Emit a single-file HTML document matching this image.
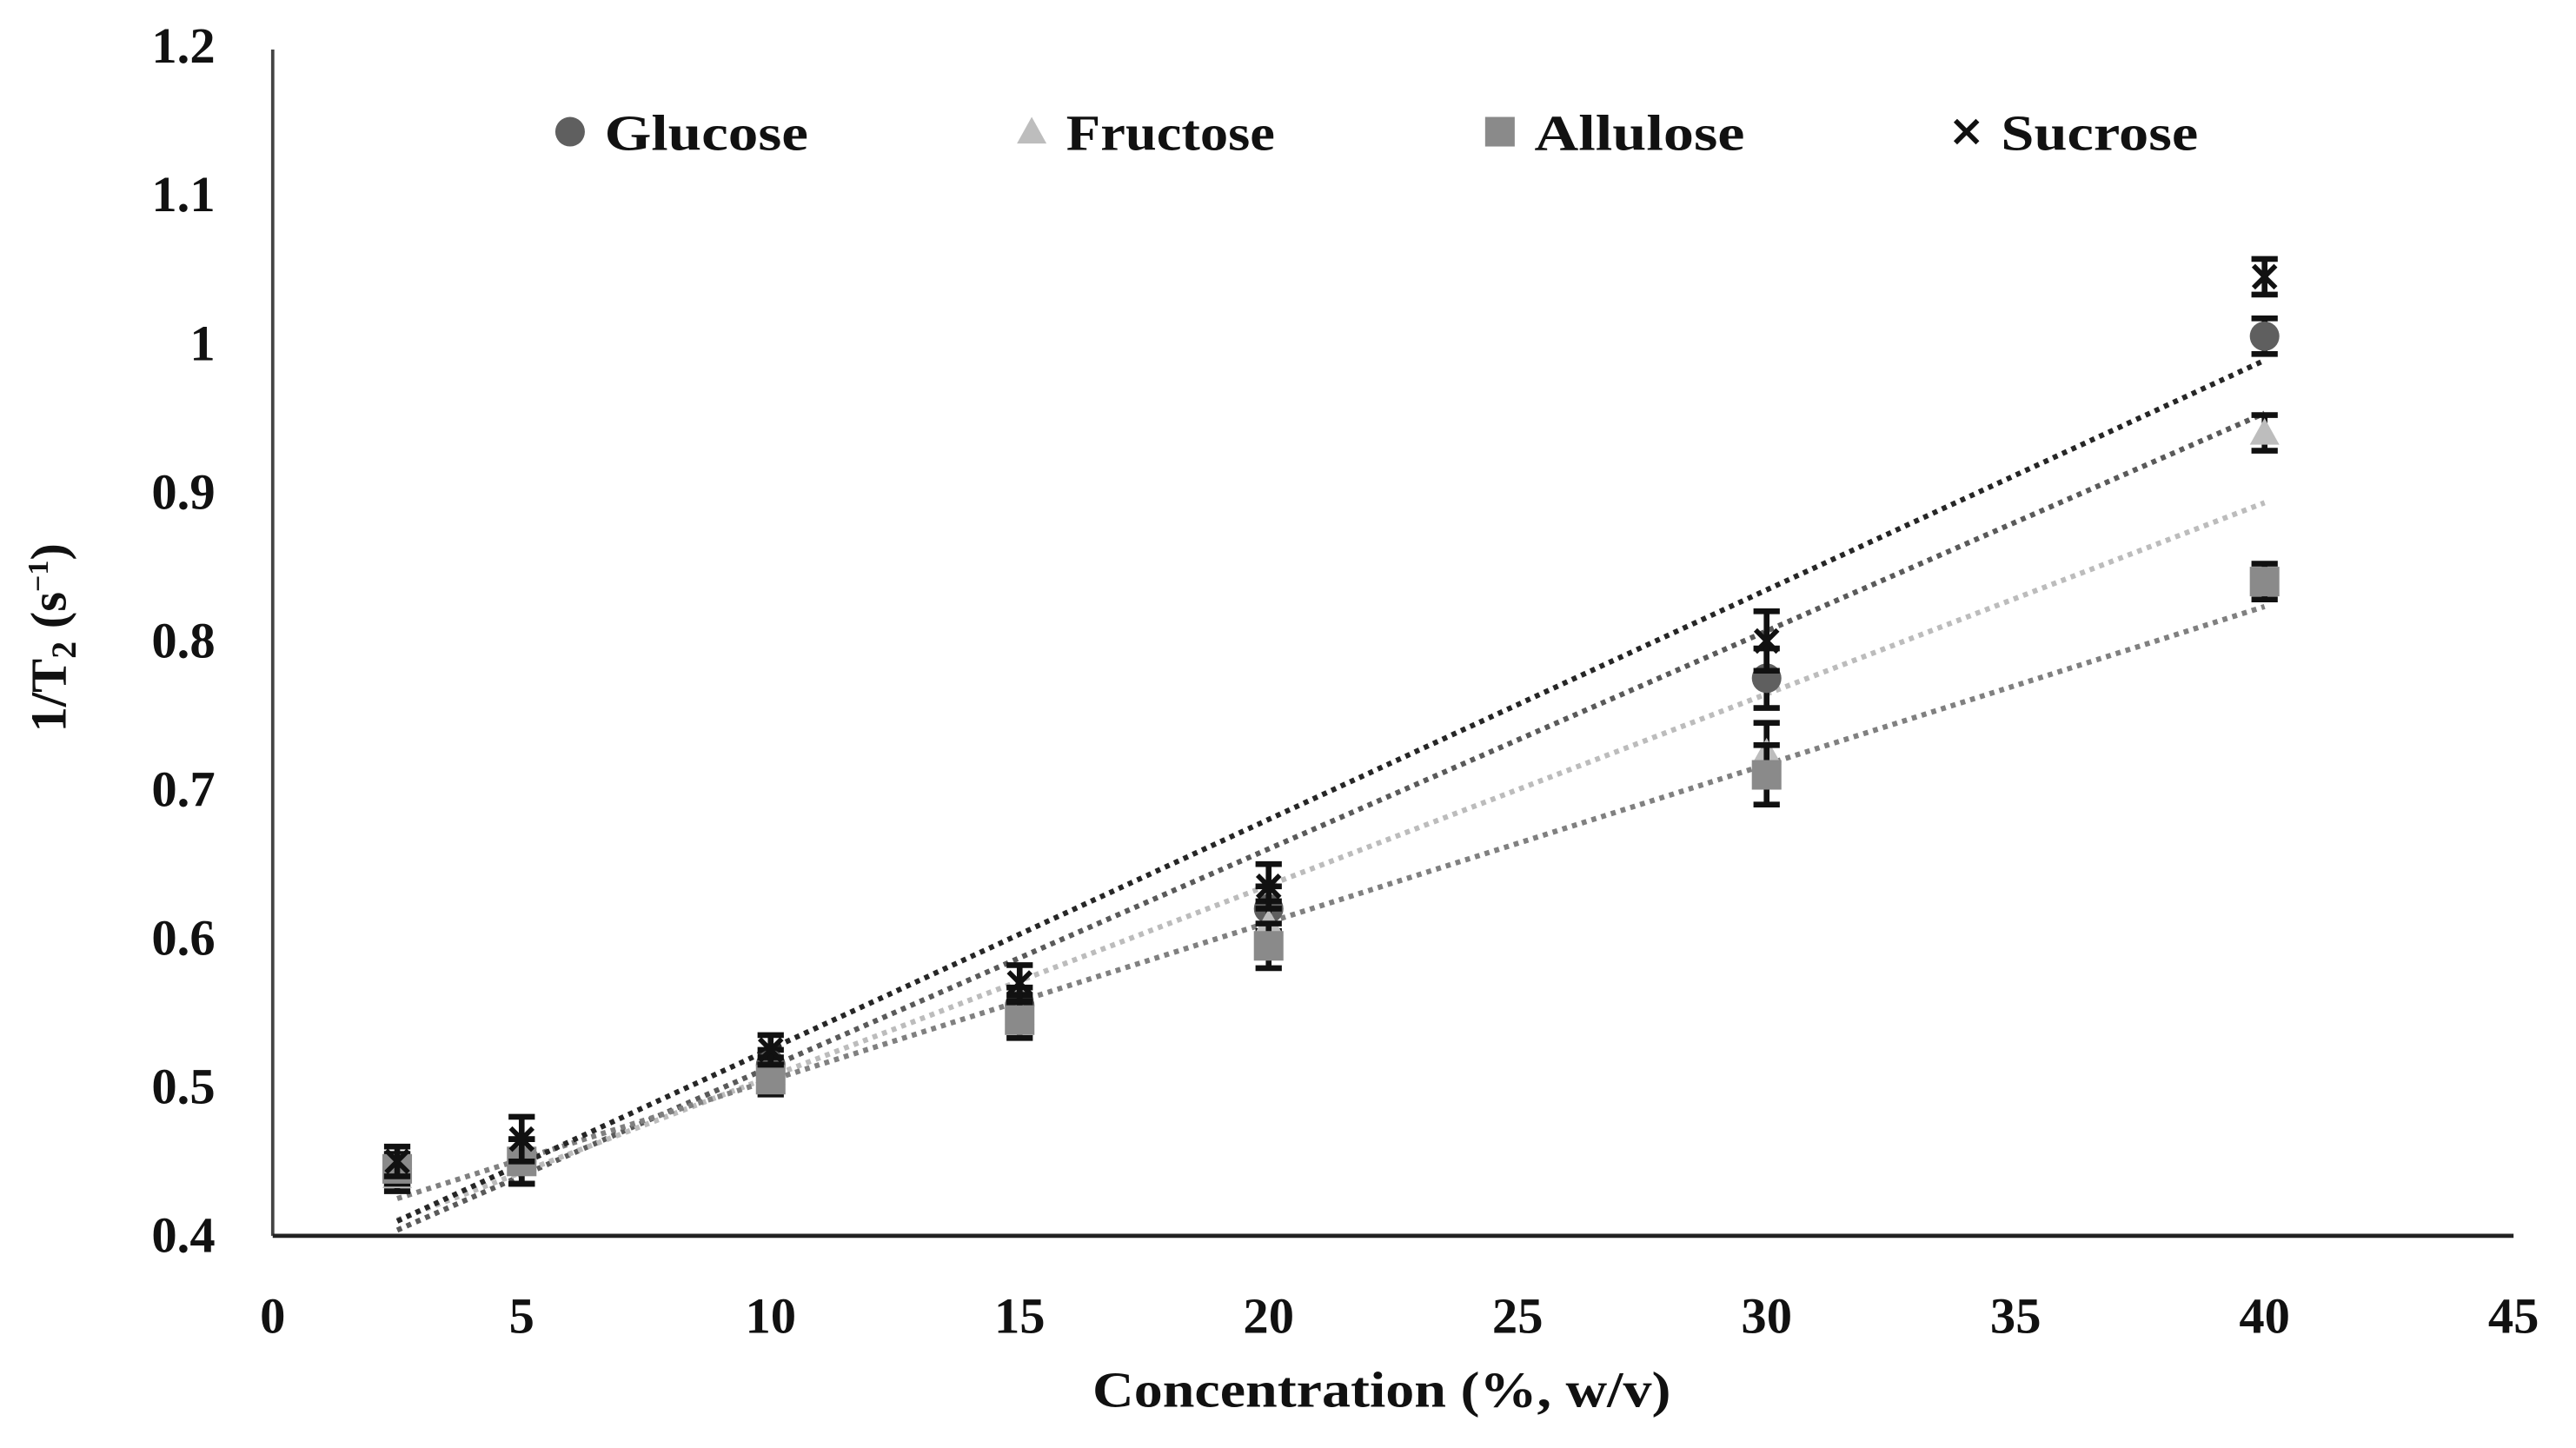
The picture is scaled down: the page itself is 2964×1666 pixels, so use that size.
<!DOCTYPE html>
<html><head><meta charset="utf-8"><style>
html,body{margin:0;padding:0;background:#fff;}
svg{display:block;}
text{font-family:"Liberation Serif",serif;font-weight:bold;fill:#111;}
</style></head><body>
<svg id="chart" width="2964" height="1666" viewBox="0 0 1568 881" xmlns="http://www.w3.org/2000/svg">
<g id="axes"></g>
<g id="plot"></g>
<g id="legend"></g>
<text x="665" y="856" font-size="31" textLength="352" lengthAdjust="spacingAndGlyphs">Concentration (%, w/v)</text>
<text transform="translate(40,388) rotate(-90)" font-size="31" text-anchor="middle">1/T<tspan font-size="21" dy="6">2</tspan><tspan dy="-6"> (s</tspan><tspan font-size="18" dy="-11">−1</tspan><tspan dy="11">)</tspan></text>
</svg>
<script>
const categories = [2.5, 5, 10, 15, 20, 30, 40];
const seriesNames = ["Glucose", "Fructose", "Allulose", "Sucrose"];
const glucose = [0.445, 0.45, 0.515, 0.555, 0.62, 0.775, 1.005];
const fructose = [0.44, 0.45, 0.51, 0.55, 0.61, 0.725, 0.94];
const allulose = [0.445, 0.45, 0.505, 0.545, 0.595, 0.71, 0.84];
const sucrose = [0.45, 0.465, 0.525, 0.57, 0.635, 0.80, 1.045];
const errors = [0.01, 0.015, 0.01, 0.012, 0.015, 0.02, 0.012];
const xTicks = [0, 5, 10, 15, 20, 25, 30, 35, 40, 45];
const yTicks = [0.4, 0.5, 0.6, 0.7, 0.8, 0.9, 1, 1.1, 1.2];

const NS = "http://www.w3.org/2000/svg";
const X0 = 166, X1 = 1530, Y0 = 752, Y1 = 28;
function xs(v){ return X0 + (v - 0) / 45 * (X1 - X0); }
function ys(v){ return Y0 - (v - 0.4) / 0.8 * (Y0 - Y1); }
function mk(tag, attrs, parent){ const e = document.createElementNS(NS, tag); for (const k in attrs) e.setAttribute(k, attrs[k]); parent.appendChild(e); return e; }

const axes = document.getElementById('axes');
const plot = document.getElementById('plot');
const legend = document.getElementById('legend');

const ya = mk('line', {x1: X0, y1: Y1 + 2, x2: X0, y2: Y0, stroke: '#444', 'stroke-width': 2}, axes);


const xa = mk('line', {x1: X0, y1: Y0, x2: X1, y2: Y0, stroke: '#222', 'stroke-width': 2.5}, axes);



xTicks.forEach(t => {
  const tx = mk('text', {x: xs(t), y: 811, 'font-size': 31, 'text-anchor': 'middle'}, axes);
  tx.textContent = t;
  
  
});
yTicks.forEach(t => {
  const tx = mk('text', {x: 131, y: ys(t) + 10, 'font-size': 31, 'text-anchor': 'end'}, axes);
  tx.textContent = String(t);
  
  
});

const series = [
  {name: 'glucose', vals: glucose, fill: '#5f5f5f', line: '#5a5a5a', shape: 'circle'},
  {name: 'fructose', vals: fructose, fill: '#bdbdbd', line: '#bcbcbc', shape: 'triangle'},
  {name: 'allulose', vals: allulose, fill: '#8a8a8a', line: '#808080', shape: 'square'},
  {name: 'sucrose', vals: sucrose, fill: '#111', line: '#262626', shape: 'cross'}
];

function drawMarker(shape, cx, cy, fill, parent, size){
  const s = size || 8;
  let m;
  if (shape === 'circle') m = mk('circle', {cx: cx, cy: cy, r: s, fill: fill}, parent);
  else if (shape === 'triangle') m = mk('polygon', {points: `${cx},${cy - s} ${cx - s},${cy + s * 0.8} ${cx + s},${cy + s * 0.8}`, fill: fill}, parent);
  else if (shape === 'square') m = mk('rect', {x: cx - s, y: cy - s, width: 2 * s, height: 2 * s, fill: fill}, parent);
  else m = mk('path', {d: `M${cx - s * 0.75},${cy - s * 0.75}L${cx + s * 0.75},${cy + s * 0.75}M${cx + s * 0.75},${cy - s * 0.75}L${cx - s * 0.75},${cy + s * 0.75}`, stroke: fill, 'stroke-width': 3}, parent);
  return m;
}

series.forEach(s => {
  const n = categories.length;
  let sx = 0, sy = 0, sxx = 0, sxy = 0;
  categories.forEach((x, i) => { sx += x; sy += s.vals[i]; sxx += x * x; sxy += x * s.vals[i]; });
  const b = (n * sxy - sx * sy) / (n * sxx - sx * sx);
  const a = (sy - b * sx) / n;
  const xa0 = categories[0], xa1 = categories[n - 1];
  const tl = mk('line', {x1: xs(xa0), y1: ys(a + b * xa0), x2: xs(xa1), y2: ys(a + b * xa1), stroke: s.line, 'stroke-width': 3.2, 'stroke-dasharray': '3 3.2'}, plot);
  
  
});

series.forEach(s => {
  s.vals.forEach((v, i) => {
    const cx = xs(categories[i]), cy = ys(v);
    const e = errors[i];
    const eb = mk('path', {d: `M${cx},${ys(v + e)}L${cx},${ys(v - e)}M${cx - 8},${ys(v + e)}L${cx + 8},${ys(v + e)}M${cx - 8},${ys(v - e)}L${cx + 8},${ys(v - e)}`, stroke: '#111', 'stroke-width': 3.5}, plot);
    
    
    const m = drawMarker(s.shape, cx, cy, s.fill, plot, 9);
    
    
  });
});

const legX = [347, 628, 913, 1197];
const legW = [124, 127, 128, 120];
series.forEach((s, i) => {
  const m = drawMarker(s.shape, legX[i], 80, s.fill, legend, 9);
  
  
  const t = mk('text', {x: legX[i] + 21, y: 91, 'font-size': 31, textLength: legW[i], lengthAdjust: 'spacingAndGlyphs'}, legend);
  t.textContent = seriesNames[i];
  
  
});
</script>
</body></html>
